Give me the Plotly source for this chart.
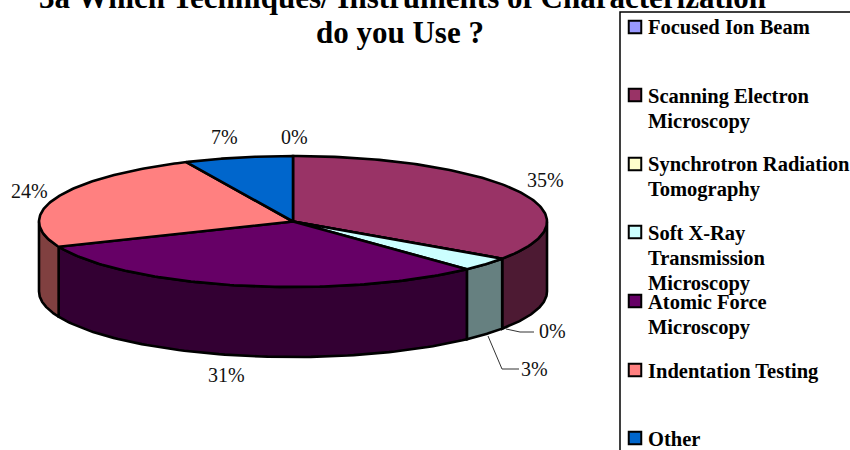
import numpy as np
import plotly.graph_objects as go

categories = ["Focused Ion Beam", "Scanning Electron<br>Microscopy", "Synchrotron Radiation<br>Tomography",
              "Soft X-Ray<br>Transmission<br>Microscopy", "Atomic Force<br>Microscopy", "Indentation Testing", "Other"]
values = [0, 34.6, 0, 3.4, 30.7, 24.4, 6.9]
pct_labels = ["0%", "35%", "0%", "3%", "31%", "24%", "7%"]
top_colors = ["#9999FF", "#993366", "#FFFFCC", "#CCFFFF", "#660066", "#FF8080", "#0066CC"]
side_colors = ["#4D4D80", "#4D1A33", "#808066", "#668080", "#330033", "#804040", "#003366"]
title_lines = ["3a Which Techniques/ Instruments of Characterization", "do you Use ?"]

W, H = 850, 450
CX, CY, RX, RY, DEPTH = 293, 221.5, 254, 65.5, 70
SERIF = "Liberation Serif"


def ell(deg):
    a = np.radians(deg)
    return CX + RX * np.sin(a), CY - RY * np.cos(a)


fig = go.Figure()
bounds = np.concatenate([[0], np.cumsum(values)]) / np.sum(values) * 360


def poly(x, y, color, width=2.6):
    fig.add_trace(go.Scatter(x=x, y=y, mode="lines", fill="toself", fillcolor=color,
                             line=dict(color="black", width=width), hoverinfo="skip", showlegend=False))


# sides of the disc (only the front half is visible)
for i in range(len(values)):
    a0, a1 = max(bounds[i], 90), min(bounds[i + 1], 270)
    if a1 <= a0:
        continue
    t = np.linspace(a0, a1, 80)
    x, y = ell(t)
    poly(np.concatenate([x, x[::-1], x[:1]]),
         np.concatenate([y, y[::-1] + DEPTH, y[:1]]), side_colors[i])

# top wedges
for i in range(len(values)):
    t = np.linspace(bounds[i], bounds[i + 1], 120)
    x, y = ell(t)
    poly(np.concatenate([[CX], x, [CX]]), np.concatenate([[CY], y, [CY]]), top_colors[i])

# legend box and keys
legend_x, legend_top = 620, 12
key_x = 635
key_y = [27, 95, 164, 232, 301, 370, 438]
text_y = [27, 96, 164, 233, 302, 371, 439]
line_step = 25.2
fig.add_shape(type="rect", x0=legend_x, x1=W + 20, y0=legend_top, y1=H + 20,
              line=dict(color="black", width=1.5), fillcolor="white", layer="below")
for i, c in enumerate(categories):
    fig.add_trace(go.Scatter(x=[key_x], y=[key_y[i]], mode="markers",
                             marker=dict(symbol="square", size=12.5, color=top_colors[i],
                                         line=dict(color="black", width=2)),
                             hoverinfo="skip", showlegend=False))
    for j, s in enumerate(c.split("<br>")):
        fig.add_annotation(x=648, y=text_y[i] + j * line_step, text=f"<b>{s}</b>",
                           xanchor="left", yanchor="middle", align="left",
                           showarrow=False, xref="x", yref="y",
                           font=dict(family=SERIF, size=20.5, color="black"), borderpad=0, borderwidth=0)

# leader lines
fig.add_trace(go.Scatter(x=[506, 520, 534], y=[329, 332, 332], mode="lines",
                         line=dict(color="#333333", width=1), hoverinfo="skip", showlegend=False))
fig.add_trace(go.Scatter(x=[488, 502, 519], y=[336, 369, 369], mode="lines",
                         line=dict(color="#333333", width=1), hoverinfo="skip", showlegend=False))

# percentage labels
label_xy = [(294, 137), (545, 180), (552, 331), (534, 369), (226, 375), (29, 191), (224, 137)]
for (lx, ly), s in zip(label_xy, pct_labels):
    fig.add_annotation(x=lx, y=ly, text=s, showarrow=False, xanchor="center", yanchor="middle",
                       font=dict(family=SERIF, size=20, color="#111111"))

# title
for (tx, ty), s in zip([(402, -3), (399.5, 32)], title_lines):
    fig.add_annotation(x=tx / W, y=1 - ty / H, xref="paper", yref="paper", text=f"<b>{s}</b>",
                       showarrow=False, xanchor="center", yanchor="middle",
                       font=dict(family=SERIF, size=31, color="black"))

fig.update_layout(width=W, height=H, margin=dict(l=0, r=0, t=0, b=0), paper_bgcolor="white",
                  plot_bgcolor="white", showlegend=False,
                  xaxis=dict(range=[0, W], visible=False, fixedrange=True),
                  yaxis=dict(range=[H, 0], visible=False, fixedrange=True))
fig.write_html("out.html", config={"displayModeBar": False},
               post_script="document.body.style.margin='0';document.documentElement.style.overflow='hidden';")
